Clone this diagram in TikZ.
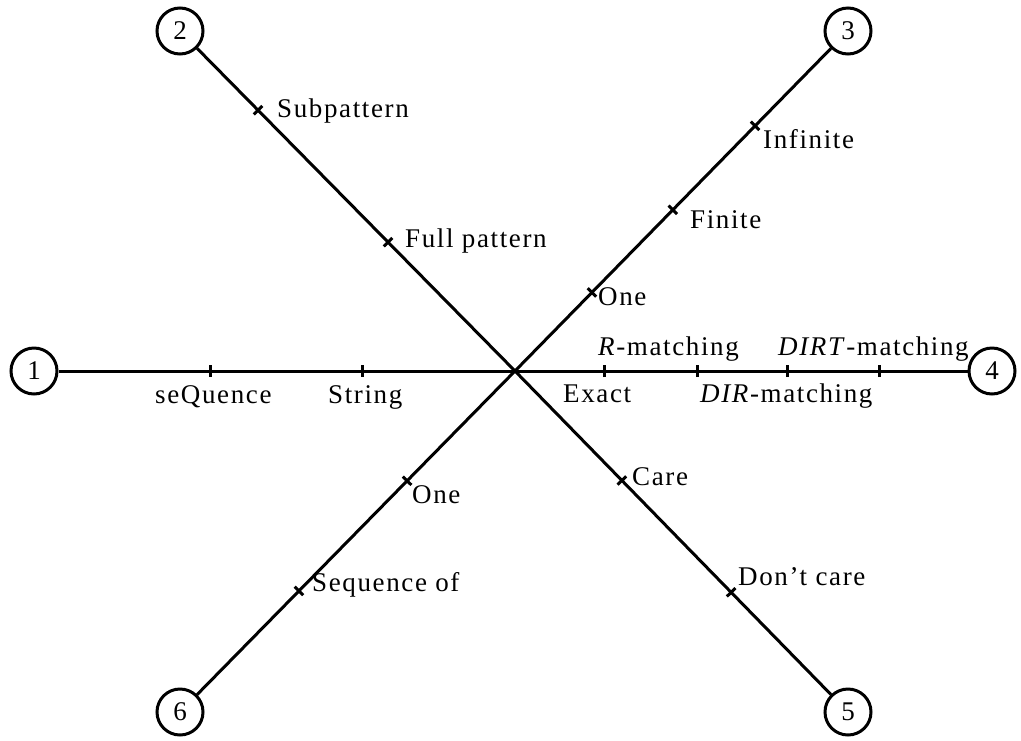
\documentclass[tikz,border=0pt]{standalone}
\usepackage{fontspec}
\setmainfont{Liberation Serif}[LetterSpace=6]
\usetikzlibrary{calc}
\begin{document}
\begin{tikzpicture}[x=1pt,y=-1pt,
  axis/.style={line width=3pt},
  num/.style={draw,circle,line width=3pt,minimum size=46pt,inner sep=0pt,font=\fontsize{27}{27}\selectfont},
  lbl/.style={anchor=base west,inner sep=0pt,font=\fontsize{27}{27}\selectfont},
  tickmark/.style={line width=3pt}]
\useasboundingbox (0,0) rectangle (1021,740);
\coordinate (c) at (515,371);
\node[num] (n1) at (34,371) {1};
\node[num] (n2) at (180,31) {2};
\node[num] (n3) at (848,31) {3};
\node[num] (n4) at (992,371) {4};
\node[num] (n5) at (848,712) {5};
\node[num] (n6) at (180,712) {6};
\foreach \n in {1,...,6} \draw[axis] (c) -- (n\n);
% ticks
\foreach \n/\t [count=\i] in {1/0.634,1/0.318,2/0.767,2/0.379,3/0.721,3/0.474,3/0.231,4/0.187,4/0.382,4/0.572,4/0.765,5/0.321,5/0.649,6/0.322,6/0.645}{
  \coordinate (t\i) at ($(c)!\t!(n\n)$);
  \draw[tickmark] ($(t\i)!6pt!90:(c)$) -- ($(t\i)!6pt!-90:(c)$);
}
\node[lbl] (l1) at (155,403) {seQuence};
\node[lbl] (l2) at (328,403) {String};
\node[lbl] (l3) at (277,117) {Subpattern};
\node[lbl] (l4) at (405,247) {Full pattern};
\node[lbl] (l5) at (763,148) {Infinite};
\node[lbl] (l6) at (690,228) {Finite};
\node[lbl] (l7) at (598,305) {One};
\node[lbl] (l8) at (598,355) {\textit{R}-matching};
\node[lbl] (l9) at (778,355) {\textit{DIRT}-matching};
\node[lbl] (l10) at (563,402) {Exact};
\node[lbl] (l11) at (700,402) {\textit{DIR}-matching};
\node[lbl] (l12) at (632,485) {Care};
\node[lbl] (l13) at (738,585) {Don’t care};
\node[lbl] (l14) at (412,503) {One};
\node[lbl] (l15) at (312,591) {Sequence of};
\end{tikzpicture}
\end{document}
